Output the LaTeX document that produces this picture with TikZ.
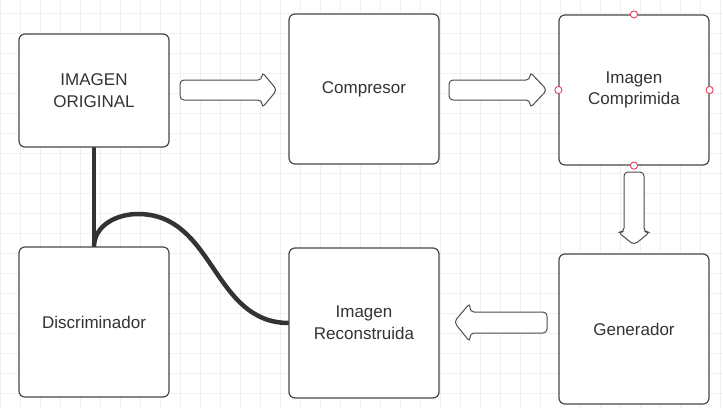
\documentclass[tikz,border=0pt]{standalone}
\usepackage{fontspec}
\setmainfont{Liberation Sans}
\usepackage{tikz}

\definecolor{txtgray}{HTML}{333333}
\definecolor{gridgray}{HTML}{F0F0F0}
\definecolor{handlered}{HTML}{E8405A}

\tikzset{
  box/.style={draw=black!72, line width=1.2pt, rounded corners=6pt, fill=white,
    minimum width=150pt, minimum height=150pt, align=center, text=txtgray,
    font=\fontsize{17}{21.7}\selectfont},
  blockarrow/.style={draw=black!70, line width=1pt, fill=white, rounded corners=4pt},
  link/.style={line width=4.5pt, draw=txtgray},
  handle/.style={draw=handlered, fill=white, line width=0.9pt},
  gridline/.style={draw=gridgray, line width=0.7pt}
}

\begin{document}
\begin{tikzpicture}[x=1pt,y=-1pt]
      \useasboundingbox (0,0) rectangle (723,408);
      \foreach \x in {0,20,...,720} \draw[gridline] (\x,0) -- (\x,408);
      \foreach \y in {13,33,...,393} \draw[gridline] (0,\y) -- (723,\y);

      % links to the discriminator
      \draw[link] (94,147) -- (94,247);
      \draw[link] (94,247) to[out=90,in=180] (138,214)
            .. controls (215,214) and (212,323) .. (289,323);

      \node[box, minimum height=113pt] (orig) at (94,90.5) {IMAGEN\\ORIGINAL};
      \node[box] (compr) at (364,89) {Compresor};
      \node[box] (imgcomp) at (634,90) {Imagen\\Comprimida};
      \node[box] (gen) at (634,329) {Generador};
      \node[box] (recon) at (364,323) {Imagen\\Reconstruida};
      \node[box] (disc) at (94,322) {Discriminador};

      % block arrows
      \draw[blockarrow] (180,80) -- (262,80) -- (262,72) -- (277,90) -- (262,108) -- (262,100) -- (180,100) -- cycle;
      \draw[blockarrow] (449,80) -- (530,80) -- (530,72) -- (547,90) -- (530,108) -- (530,100) -- (449,100) -- cycle;
      \draw[blockarrow] (624,172) -- (624,232) -- (618,232) -- (634,245) -- (650,232) -- (644,232) -- (644,172) -- cycle;
      \draw[blockarrow] (547,312) -- (470,312) -- (470,303) -- (454,322) -- (470,342) -- (470,333) -- (547,333) -- cycle;

      % selection handles
      \foreach \a in {north,south,east,west}
        \draw[handle] (imgcomp.\a) circle (3.6pt);
\end{tikzpicture}
\end{document}
